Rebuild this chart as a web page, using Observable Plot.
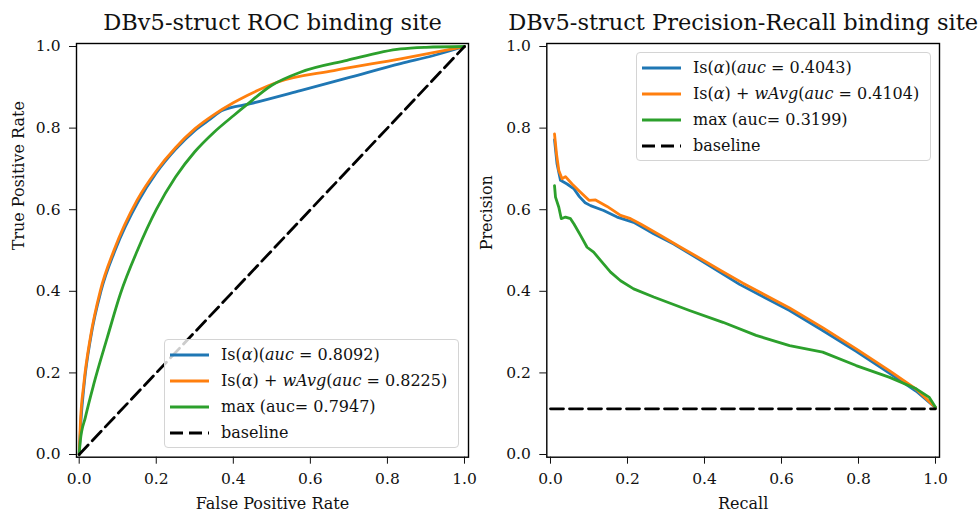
<!DOCTYPE html>
<html>
<head>
<meta charset="utf-8">
<script src="https://cdn.jsdelivr.net/npm/d3@7"></script>
<script src="https://cdn.jsdelivr.net/npm/@observablehq/plot@0.6"></script>
<style>
  body { margin: 0; background: #fff; }
  #wrap { position: relative; width: 979px; height: 515px; overflow: hidden; font-family: "DejaVu Serif", serif; color: #111; }
  .panel { position: absolute; top: 0; }
  .legend { position: absolute; width: 295px; height: 109px; box-sizing: border-box; border: 1px solid #d4d4d4; border-radius: 4px; background: rgba(255,255,255,0.8); }
  .row { position: absolute; left: 0; height: 20px; width: 100%; }
  .row svg { position: absolute; left: 5px; top: 0; }
  .row span { position: absolute; left: 56px; top: 0; line-height: 20px; font-size: 16px; white-space: nowrap; }
</style>
</head>
<body>
<div id="wrap"></div>
<script>
// ---------- data ----------
const ticks = [0, 0.2, 0.4, 0.6, 0.8, 1.0];
const colors = ["#1f77b4", "#ff7f0e", "#2ca02c"];

// ROC curves
const rocIsFpr  = [0, 0.004, 0.013, 0.03, 0.057, 0.093, 0.155, 0.2, 0.25, 0.3, 0.34, 0.371, 0.445, 0.574, 0.704, 0.834, 0.92, 1.0];
const rocIsTpr  = [0, 0.075, 0.173, 0.287, 0.402, 0.5, 0.623, 0.69, 0.748, 0.794, 0.822, 0.843, 0.86, 0.892, 0.925, 0.958, 0.978, 1.0];
const rocWavgFpr = [0, 0.003, 0.012, 0.029, 0.055, 0.09, 0.15, 0.2, 0.25, 0.3, 0.35, 0.4, 0.436, 0.514, 0.661, 0.834, 1.0];
const rocWavgTpr = [0, 0.075, 0.173, 0.287, 0.402, 0.5, 0.623, 0.695, 0.752, 0.798, 0.833, 0.862, 0.88, 0.9125, 0.941, 0.97, 1.0];
const rocMaxFpr = [0, 0.003, 0.016, 0.038, 0.073, 0.107, 0.151, 0.2, 0.25, 0.3, 0.35, 0.401, 0.432, 0.5, 0.574, 0.695, 0.834, 0.9, 1.0];
const rocMaxTpr = [0, 0.034, 0.091, 0.173, 0.287, 0.394, 0.5, 0.6, 0.68, 0.742, 0.79, 0.831, 0.855, 0.905, 0.937, 0.966, 0.994, 0.998, 1.0];
const rocBaseX = [0, 1];
const rocBaseY = [0, 1];

// Precision-Recall curves
const prIsRec  = [0.0104, 0.017, 0.026, 0.043, 0.061, 0.075, 0.09, 0.104, 0.138, 0.173, 0.216, 0.268, 0.32, 0.39, 0.491, 0.621, 0.707, 0.794, 0.881, 0.95, 1.0];
const prIsPrec = [0.772, 0.712, 0.672, 0.663, 0.651, 0.632, 0.617, 0.61, 0.598, 0.582, 0.569, 0.541, 0.516, 0.476, 0.417, 0.353, 0.304, 0.253, 0.199, 0.155, 0.115];
const prWavgRec  = [0.0104, 0.0156, 0.0216, 0.03, 0.039, 0.056, 0.078, 0.1, 0.117, 0.147, 0.182, 0.208, 0.234, 0.286, 0.338, 0.39, 0.442, 0.5, 0.621, 0.707, 0.794, 0.881, 0.95, 1.0];
const prWavgPrec = [0.786, 0.737, 0.696, 0.676, 0.681, 0.663, 0.643, 0.623, 0.624, 0.608, 0.586, 0.578, 0.565, 0.537, 0.508, 0.48, 0.451, 0.42, 0.359, 0.311, 0.259, 0.205, 0.16, 0.115];
const prMaxRec  = [0.0104, 0.013, 0.0216, 0.028, 0.039, 0.052, 0.061, 0.078, 0.095, 0.112, 0.13, 0.156, 0.182, 0.216, 0.268, 0.361, 0.448, 0.534, 0.621, 0.707, 0.794, 0.881, 0.95, 0.984, 1.0];
const prMaxPrec = [0.659, 0.631, 0.606, 0.578, 0.582, 0.578, 0.565, 0.537, 0.508, 0.496, 0.476, 0.447, 0.426, 0.406, 0.386, 0.353, 0.324, 0.292, 0.267, 0.251, 0.218, 0.189, 0.161, 0.14, 0.116];
const prBaseX = [0, 1];
const prBaseY = [0.112, 0.112];

// labels
const rocTitle = "DBv5-struct ROC binding site";
const prTitle = "DBv5-struct Precision-Recall binding site";
const rocXLabel = "False Positive Rate", rocYLabel = "True Positive Rate";
const prXLabel = "Recall", prYLabel = "Precision";
const rocLegend = [
  "Is(<i>α</i>)(<i>auc</i> = 0.8092)",
  "Is(<i>α</i>) + <i>wAvg</i>(<i>auc</i> = 0.8225)",
  "max (auc= 0.7947)",
  "baseline"
];
const prLegend = [
  "Is(<i>α</i>)(<i>auc</i> = 0.4043)",
  "Is(<i>α</i>) + <i>wAvg</i>(<i>auc</i> = 0.4104)",
  "max (auc= 0.3199)",
  "baseline"
];

// ---------- build ----------
const zipXY = (xs, ys) => xs.map((x, i) => ({x, y: ys[i]}));

function panel({width, ml, mr, xDomain, yDomain, series, base, curve, title, xlabel, ylabel, ylabOff}) {
  return Plot.plot({
    width, height: 515,
    marginLeft: ml, marginRight: mr, marginTop: 43, marginBottom: 58.3,
    x: {domain: xDomain},
    y: {domain: yDomain},
    style: {fontFamily: "DejaVu Serif", fontSize: "15.5px", color: "#111", background: "transparent", overflow: "visible"},
    marks: [
      ...series.map((s, i) => Plot.line(s, {x: "x", y: "y", stroke: colors[i], strokeWidth: 2.8, curve})),
      Plot.line(base, {x: "x", y: "y", stroke: "#000", strokeWidth: 2.8, strokeDasharray: "13,6"}),
      Plot.frame({stroke: "#000", strokeWidth: 1.4}),
      Plot.axisX({ticks, tickFormat: d3.format(".1f"), tickSize: 7, tickPadding: 9, label: null}),
      Plot.axisY({ticks, tickFormat: d3.format(".1f"), tickSize: 7, tickPadding: 9, label: null}),
      Plot.text([title], {text: d => d, frameAnchor: "top", lineAnchor: "middle", dy: -21, fontSize: 22.5}),
      Plot.text([xlabel], {text: d => d, frameAnchor: "bottom", lineAnchor: "middle", dy: 47, fontSize: 16}),
      Plot.text([ylabel], {text: d => d, frameAnchor: "left", lineAnchor: "middle", dx: -ylabOff, rotate: -90, fontSize: 16})
    ]
  });
}

const wrap = document.getElementById("wrap");

const left = panel({
  width: 489, ml: 76, mr: 21,
  xDomain: [-0.007, 1.0104], yDomain: [-0.0066, 1.0074],
  series: [zipXY(rocIsFpr, rocIsTpr), zipXY(rocWavgFpr, rocWavgTpr), zipXY(rocMaxFpr, rocMaxTpr)],
  base: zipXY(rocBaseX, rocBaseY), curve: "monotone-x",
  title: rocTitle, xlabel: rocXLabel, ylabel: rocYLabel, ylabOff: 58
});
left.classList.add("panel"); left.style.left = "0px";
wrap.appendChild(left);

const right = panel({
  width: 490, ml: 57.3, mr: 40,
  xDomain: [-0.0096, 1.0104], yDomain: [-0.0066, 1.0074],
  series: [zipXY(prIsRec, prIsPrec), zipXY(prWavgRec, prWavgPrec), zipXY(prMaxRec, prMaxPrec)],
  base: zipXY(prBaseX, prBaseY), curve: "linear",
  title: prTitle, xlabel: prXLabel, ylabel: prYLabel, ylabOff: 60
});
right.classList.add("panel"); right.style.left = "489px";
wrap.appendChild(right);

function legend(x, y, labels) {
  const box = document.createElement("div");
  box.className = "legend";
  box.style.left = x + "px"; box.style.top = y + "px";
  const rowsY = [14.5, 41, 67, 92.5];
  const strokes = [...colors, "#000"];
  labels.forEach((lab, i) => {
    const row = document.createElement("div");
    row.className = "row";
    row.style.top = (rowsY[i] - 10) + "px";
    const dash = i === 3 ? ' stroke-dasharray="13,6"' : '';
    row.innerHTML = `<svg width="40" height="20"><line x1="0" y1="10" x2="39" y2="10" stroke="${strokes[i]}" stroke-width="2.8"${dash}/></svg><span>${lab}</span>`;
    box.appendChild(row);
  });
  wrap.appendChild(box);
}
legend(164, 339, rocLegend);
legend(636, 52, prLegend);
</script>
</body>
</html>
